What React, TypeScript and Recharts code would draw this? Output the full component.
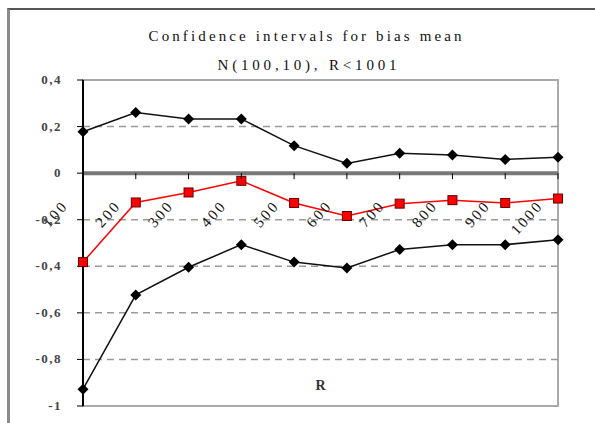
import React from "react";
import {
  LineChart,
  Line,
  XAxis,
  YAxis,
  ReferenceLine,
  ReferenceArea,
} from "recharts";

// R values (sample counts)
const rValues = [100, 200, 300, 400, 500, 600, 700, 800, 900, 1000];
// confidence interval bounds and bias mean
const upperBound = [0.178, 0.26, 0.233, 0.233, 0.118, 0.042, 0.085, 0.078, 0.059, 0.068];
const biasMean = [-0.382, -0.126, -0.083, -0.033, -0.128, -0.184, -0.131, -0.116, -0.128, -0.109];
const lowerBound = [-0.928, -0.523, -0.404, -0.307, -0.382, -0.407, -0.328, -0.307, -0.307, -0.286];

const yTicks = [0.4, 0.2, 0, -0.2, -0.4, -0.6, -0.8, -1];
const gridValues = [0.2, -0.2, -0.4, -0.6, -0.8];

const title = "Confidence intervals for bias mean";
const subtitle = "N(100,10), R<1001";
const xLabel = "R";

const data = rValues.map((r, i) => ({
  r,
  upper: upperBound[i],
  mean: biasMean[i],
  lower: lowerBound[i],
}));

const W = 595;
const H = 423;
const TOP = 80;
const AXIS_W = 83;
const RIGHT = 37;
const X_AXIS_H = 17;
const PLOT_H = H - TOP - X_AXIS_H;
const Y_MAX = Math.max(...yTicks);
const Y_MIN = Math.min(...yTicks);
// pixel row of the zero line, where Excel put the category labels
const ZERO_Y = TOP + (PLOT_H * Y_MAX) / (Y_MAX - Y_MIN);

const FONT = "'Liberation Serif', 'Times New Roman', serif";

const fmt = (v: number) => String(Math.round(v * 10) / 10).replace(".", ",");

const Diamond = (props: any) => {
  const { cx, cy } = props;
  if (cx == null || cy == null) return null;
  const s = 5.5;
  return (
    <polygon
      points={`${cx},${cy - s} ${cx + s},${cy} ${cx},${cy + s} ${cx - s},${cy}`}
      fill="#000"
    />
  );
};

const Square = (props: any) => {
  const { cx, cy } = props;
  if (cx == null || cy == null) return null;
  return (
    <rect x={cx - 4.5} y={cy - 4.5} width={9} height={9} fill="#f00" stroke="#600" strokeWidth={1} />
  );
};

const RTick = (props: any) => {
  const { x, payload } = props;
  const tx = x - 14;
  const ty = ZERO_Y + 33;
  return (
    <g>
      <line x1={x} y1={ZERO_Y} x2={x} y2={ZERO_Y + 6} stroke="#000" strokeWidth={1} />
      <text
        x={tx}
        y={ty}
        transform={`rotate(-48 ${tx} ${ty})`}
        textAnchor="end"
        fontFamily={FONT}
        fontSize={15}
        letterSpacing={2.5}
        fill="#111"
      >
        {payload.value}
      </text>
    </g>
  );
};

const ValueTick = (props: any) => {
  const { y, payload } = props;
  return (
    <text
      x={AXIS_W - 21}
      y={y}
      dy={4}
      textAnchor="end"
      fontFamily={FONT}
      fontSize={13}
      fontWeight={700}
      letterSpacing={1.5}
      fill="#444"
    >
      {fmt(payload.value)}
    </text>
  );
};

export default function App() {
  return (
    <div
      style={{
        position: "absolute",
        left: 0,
        top: 0,
        width: W,
        height: H,
        background: "#fff",
        overflow: "hidden",
      }}
    >
      <div
        style={{
          position: "absolute",
          left: 7,
          top: 8,
          width: 620,
          height: 440,
          borderTop: "2px solid #555",
          borderLeft: "3px solid #8a8a8a",
          boxSizing: "border-box",
        }}
      />
      <div style={{ position: "absolute", left: 0, top: 0 }}>
        <LineChart
          width={W}
          height={H}
          data={data}
          margin={{ top: TOP, right: RIGHT, left: 0, bottom: 0 }}
        >
          {gridValues.map((v) => (
            <ReferenceLine key={v} y={v} stroke="#9a9a9a" strokeWidth={1.5} strokeDasharray="7 5" />
          ))}
          <ReferenceArea
            x1={rValues[0]}
            x2={rValues[rValues.length - 1]}
            y1={Y_MIN}
            y2={Y_MAX}
            fill="none"
            stroke="#aaa"
            strokeWidth={2}
          />
          <ReferenceLine y={0} stroke="#777" strokeWidth={4} />
          <XAxis
            type="number"
            dataKey="r"
            domain={[rValues[0], rValues[rValues.length - 1]]}
            ticks={rValues}
            interval={0}
            height={X_AXIS_H}
            axisLine={false}
            tickLine={false}
            tick={<RTick />}
            label={{
              value: xLabel,
              position: "top",
              offset: 16,
              fontFamily: FONT,
              fontSize: 14,
              fontWeight: 700,
              fill: "#333",
            }}
          />
          <YAxis
            type="number"
            domain={[Y_MIN, Y_MAX]}
            ticks={yTicks}
            interval={0}
            width={AXIS_W}
            tickSize={6}
            axisLine={{ stroke: "#000", strokeWidth: 2 }}
            tickLine={{ stroke: "#000" }}
            tick={<ValueTick />}
          />
          <Line
            type="linear"
            dataKey="upper"
            stroke="#111"
            strokeWidth={1.5}
            dot={<Diamond />}
            activeDot={false}
            isAnimationActive={false}
          />
          <Line
            type="linear"
            dataKey="lower"
            stroke="#111"
            strokeWidth={1.5}
            dot={<Diamond />}
            activeDot={false}
            isAnimationActive={false}
          />
          <Line
            type="linear"
            dataKey="mean"
            stroke="#f00"
            strokeWidth={1.5}
            dot={<Square />}
            activeDot={false}
            isAnimationActive={false}
          />
        </LineChart>
      </div>
      <svg
        width={W}
        height={100}
        style={{ position: "absolute", left: 0, top: 0, pointerEvents: "none" }}
      >
        <text
          x={305}
          y={41}
          textAnchor="middle"
          fontFamily={FONT}
          fontSize={15}
          fill="#111"
          textLength={313}
          lengthAdjust="spacing"
        >
          {title}
        </text>
        <text
          x={307}
          y={70}
          textAnchor="middle"
          fontFamily={FONT}
          fontSize={15}
          fill="#111"
          textLength={179}
          lengthAdjust="spacing"
        >
          {subtitle}
        </text>
      </svg>
    </div>
  );
}
